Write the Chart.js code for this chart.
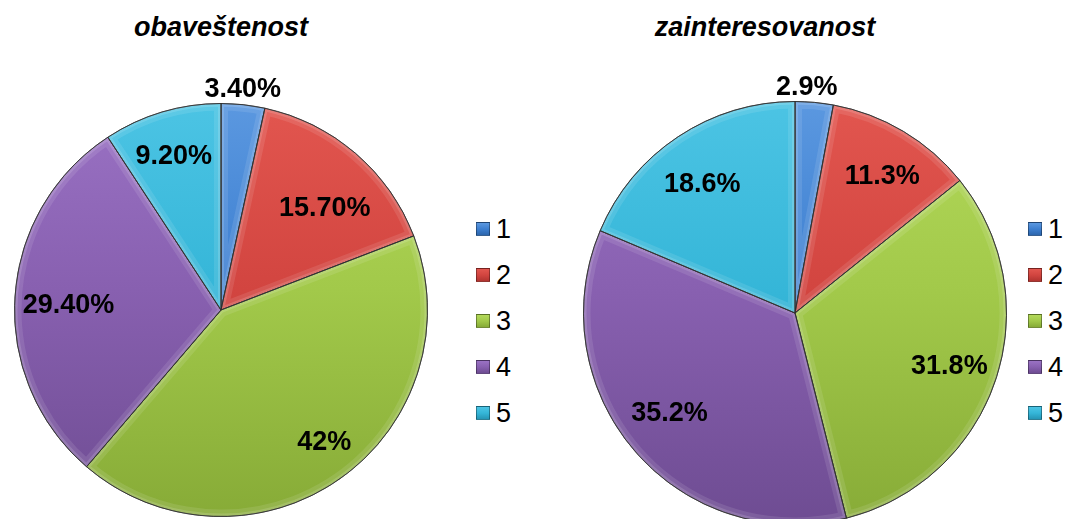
<!DOCTYPE html>
<html>
<head>
<meta charset="utf-8">
<title>obaveštenost / zainteresovanost</title>
<script src="https://cdn.jsdelivr.net/npm/chart.js@4.4.0/dist/chart.umd.min.js"></script>
<style>
  html, body {
    margin: 0;
    padding: 0;
    width: 1065px;
    height: 519px;
    overflow: hidden;
    background: #fff;
    font-family: "Liberation Sans", Arial, sans-serif;
  }
  canvas {
    position: absolute;
    top: 0;
  }
  #pieInfo { left: 0; }
  #pieInterest { left: 571px; }
  .title {
    position: absolute;
    top: 11px;
    margin: 0;
    text-align: center;
    font-size: 27px;
    font-weight: bold;
    font-style: italic;
    line-height: 32px;
    color: #000;
  }
  #titleInfo { left: 0; width: 442px; }
  #titleInterest { left: 545px; width: 440px; }
  .legend {
    position: absolute;
    top: 206px;
    list-style: none;
    margin: 0;
    padding: 0;
    font-size: 27px;
    color: #000;
  }
  .legend li {
    display: flex;
    align-items: center;
    height: 46px;
  }
  .legend .box {
    width: 14px;
    height: 14px;
    margin-right: 6px;
    box-sizing: border-box;
    border: 1px solid rgba(0, 0, 0, 0.35);
  }
  #legendInfo { left: 476px; }
  #legendInterest { left: 1028px; }
</style>
</head>
<body>
<h2 class="title" id="titleInfo"></h2>
<h2 class="title" id="titleInterest"></h2>
<canvas id="pieInfo" width="442" height="540"></canvas>
<canvas id="pieInterest" width="448" height="540"></canvas>
<ul class="legend" id="legendInfo"></ul>
<ul class="legend" id="legendInterest"></ul>

<script>
const categories = ["1", "2", "3", "4", "5"];
const infoValues = [3.4, 15.7, 42, 29.4, 9.2];
const interestValues = [2.9, 11.3, 31.8, 35.2, 18.6];
const infoTitle = "obaveštenost";
const interestTitle = "zainteresovanost";

// light / base / dark shade for each slice
const SLICE_COLORS = [
      ["#5b98e0", "#3d7fd0", "#2c66ad"],
      ["#e2564f", "#d24540", "#b23430"],
      ["#b3d95a", "#a2c94a", "#87ab37"],
      ["#9a72c4", "#8860b0", "#6e4c92"],
      ["#4cc4e4", "#35b6d8", "#2596b6"],
];

const FONT = "'Liberation Sans', Arial, sans-serif";

// percent label text for each chart (kept out of the options so Chart.js
// does not treat them as scriptable)
const LABEL_FORMAT = {
      pieInfo: (v) => (Number.isInteger(v) ? v : v.toFixed(2)) + "%",
      pieInterest: (v) => v.toFixed(1) + "%",
};

// small pixel nudges for a few labels so they sit where they read best
const LABEL_NUDGE = {
      pieInfo: [[-2, 0], [3, 16], [14, 6], [2, 6], [-3, -5]],
      pieInterest: [[-9, 0], [6, 0], [4, 3], [-5, -3], [-5, 4]],
};

function sliceFill(context) {
      const chart = context.chart;
      const area = chart.chartArea;
      const c = SLICE_COLORS[context.dataIndex];
      if (!area) return c[1];
      const g = chart.ctx.createLinearGradient(0, area.top, 0, area.bottom);
      g.addColorStop(0, c[0]);
      g.addColorStop(0.45, c[1]);
      g.addColorStop(1, c[2]);
      return g;
}

// soft light rim inside every slice, then the dark outline again
const bevelPlugin = {
      id: "bevel",
      afterDatasetsDraw(chart) {
            const ctx = chart.ctx;
            chart.getDatasetMeta(0).data.forEach((arc) => {
                  const p = arc.getProps(["x", "y", "startAngle", "endAngle", "outerRadius"]);
                  const path = () => {
                        ctx.beginPath();
                        ctx.moveTo(p.x, p.y);
                        ctx.arc(p.x, p.y, p.outerRadius, p.startAngle, p.endAngle);
                        ctx.closePath();
                  };
                  ctx.save();
                  path();
                  ctx.clip();
                  ctx.strokeStyle = "rgba(255,255,255,0.10)";
                  ctx.lineWidth = 14;
                  ctx.stroke();
                  ctx.strokeStyle = "rgba(255,255,255,0.14)";
                  ctx.lineWidth = 6;
                  ctx.stroke();
                  ctx.restore();

                  ctx.save();
                  path();
                  ctx.strokeStyle = "rgba(40,40,40,0.75)";
                  ctx.lineWidth = 1;
                  ctx.stroke();
                  ctx.restore();
            });
      },
};

// value labels: inside the slice, small slices go just outside the rim
const valueLabelPlugin = {
      id: "valueLabels",
      afterDraw(chart) {
            const ctx = chart.ctx;
            const ds = chart.data.datasets[0];
            const total = ds.data.reduce((a, b) => a + b, 0);
            const fmt = LABEL_FORMAT[chart.canvas.id];
            const nudge = LABEL_NUDGE[chart.canvas.id];
            ctx.save();
            ctx.font = "bold 27px " + FONT;
            ctx.fillStyle = "#000";
            ctx.textAlign = "center";
            ctx.textBaseline = "middle";
            chart.getDatasetMeta(0).data.forEach((arc, i) => {
                  const p = arc.getProps(["x", "y", "startAngle", "endAngle", "outerRadius"]);
                  const mid = (p.startAngle + p.endAngle) / 2;
                  const r = ds.data[i] / total < 0.05 ? p.outerRadius + 15 : p.outerRadius * 0.75;
                  ctx.fillText(
                        fmt(ds.data[i]),
                        p.x + Math.cos(mid) * r + nudge[i][0],
                        p.y + Math.sin(mid) * r + nudge[i][1]
                  );
            });
            ctx.restore();
      },
};

function makePie(canvasId, values, padding) {
      return new Chart(document.getElementById(canvasId), {
            type: "pie",
            data: {
                  labels: categories,
                  datasets: [
                        {
                              data: values,
                              backgroundColor: sliceFill,
                              borderColor: "rgba(40,40,40,0.75)",
                              borderWidth: 1,
                        },
                  ],
            },
            options: {
                  responsive: false,
                  animation: false,
                  layout: { padding: padding },
                  plugins: {
                        legend: { display: false },
                        tooltip: { enabled: false },
                  },
            },
            plugins: [bevelPlugin, valueLabelPlugin],
      });
}

function renderLegend(listId, chart) {
      const list = document.getElementById(listId);
      Chart.overrides.pie.plugins.legend.labels.generateLabels(chart).forEach((item) => {
            const c = SLICE_COLORS[item.index];
            const li = document.createElement("li");
            const box = document.createElement("span");
            box.className = "box";
            box.style.background =
                  "linear-gradient(to bottom, " + c[0] + ", " + c[1] + " 50%, " + c[2] + ")";
            li.appendChild(box);
            li.appendChild(document.createTextNode(item.text));
            list.appendChild(li);
      });
}

document.getElementById("titleInfo").textContent = infoTitle;
document.getElementById("titleInterest").textContent = interestTitle;

const infoChart = makePie("pieInfo", infoValues, { top: 103, bottom: 23, left: 0, right: 0 });
const interestChart = makePie("pieInterest", interestValues, { top: 101, bottom: 15, left: 0, right: 0 });

renderLegend("legendInfo", infoChart);
renderLegend("legendInterest", interestChart);
</script>
</body>
</html>
